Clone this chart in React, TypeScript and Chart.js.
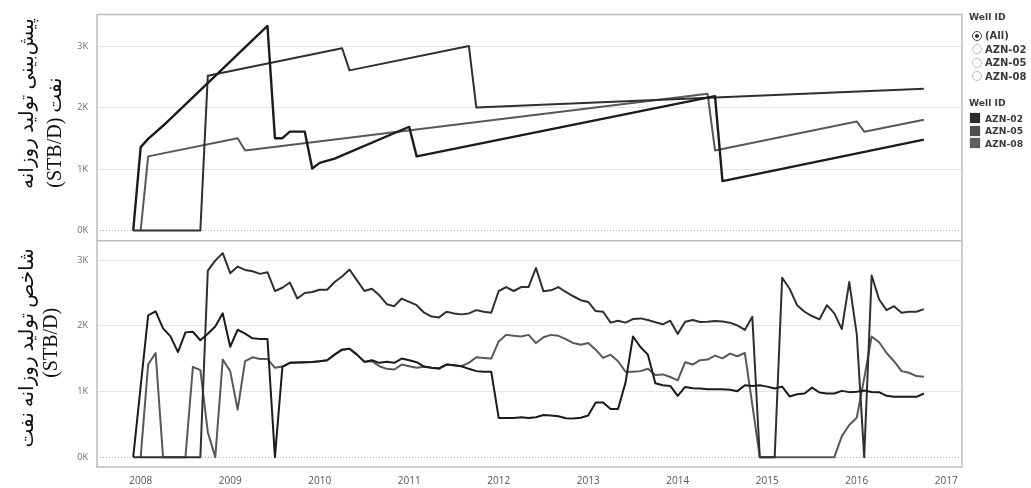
import React, { useEffect, useRef } from 'react';
import { Chart, registerables } from 'chart.js';

Chart.register(...registerables);

// ---------- categories ----------
const MONTH_COUNT = 107; // Dec 2007 .. Oct 2016
const MONTHS: string[] = Array.from({ length: MONTH_COUNT }, (_, i) => {
  const t = 2007 * 12 + 11 + i;
  const y = Math.floor(t / 12);
  const m = (t % 12) + 1;
  return `${y}-${String(m).padStart(2, '0')}`;
});

const WELLS = ['AZN-02', 'AZN-05', 'AZN-08'];
const WELL_COLORS = ['#1b1b1b', '#2f2f2f', '#585858'];
const LEGEND_SWATCHES = ['#2b2b2b', '#4e4e4e', '#5f5f5f'];

const X_TICKS = [2008, 2009, 2010, 2011, 2012, 2013, 2014, 2015, 2016, 2017];
const Y_TICKS = [0, 1000, 2000, 3000];

// ---------- bottom panel: daily oil production index (STB/D), monthly ----------
const AZN02_INDEX: (number | null)[] = [
  0, null,
  2160, 2220, 1960, 1840, 1600, 1900, 1910, 1780, 1880, 1990, 2190, 1680, 1940, 1880, 1810, 1800, 1800, 0,
  1375, 1436, 1440, 1446, 1450, 1461, 1476, 1561, 1637, 1652, 1561, 1451, 1476, 1436, 1451, 1436, 1501, 1476, 1446,
  1380, 1360, 1350, 1410, 1400, 1385, 1345, 1310, 1300, 1300, 597, 597, 597, 607, 597, 607, 643, 633, 622, 592, 590, 600,
  633, 833, 833, 733, 733, 1135, 1837, 1677, 1561, 1125, 1094, 1084, 934, 1069, 1049, 1044, 1034, 1034, 1034, 1025, 1005,
  1094, 1084, 1094, 1074, 1044, 1074, 924, 959, 969, 1059, 984, 969, 969, 1009, 990, 997, 1015, 992, 990, 934, 919, 919, 919, 919, 969,
];

const AZN05_INDEX: (number | null)[] = [
  0, 0, 0, 0, 0, 0, 0, 0, 0, 0,
  2841, 2992, 3107, 2801, 2902, 2851, 2831, 2791, 2816, 2530,
  2580, 2660, 2415, 2500, 2515, 2550, 2550, 2666, 2751, 2856, 2691, 2530, 2565, 2465, 2329, 2299, 2415, 2364, 2314,
  2200, 2140, 2128, 2214, 2189, 2174, 2189, 2239, 2214, 2199, 2530, 2590, 2530, 2590, 2590, 2881, 2525, 2540, 2590, 2515, 2450, 2390,
  2364, 2224, 2214, 2048, 2078, 2048, 2103, 2113, 2088, 2053, 2023, 2078, 1877, 2063, 2088, 2058, 2063, 2073, 2066, 2048, 2005,
  1938, 2139, 0, 0, 0, 2731, 2565, 2314, 2214, 2149, 2098, 2314, 2189, 1950, 2666, 1875, 0, 2766, 2400, 2239, 2299, 2199, 2214, 2214, 2254,
];

const AZN08_INDEX: (number | null)[] = [
  null, 0,
  1410, 1586, 0, 0, 0, 0, 1375, 1325, 380, 0, 1486, 1310, 723, 1461, 1521, 1496, 1496, 1360,
  1380, 1436, 1440, 1446, 1450, 1461, 1476, 1561, 1637, 1652, 1561, 1451, 1461, 1385, 1345, 1335, 1410, 1385, 1360,
  1375, 1360, 1350, 1410, 1400, 1385, 1436, 1521, 1511, 1501, 1762, 1862, 1847, 1837, 1862, 1737, 1827, 1862, 1847, 1797, 1737, 1712,
  1737, 1637, 1511, 1561, 1461, 1300, 1300, 1310, 1345, 1250, 1260, 1220, 1170, 1446, 1410, 1476, 1486, 1546, 1505, 1576, 1536,
  1586, 800, 0, 0, 0, 0, 0, 0, 0, 0, 0, 0, 0, 320, 490, 600, 1200, 1837, 1750, 1586, 1461, 1310, 1285, 1235, 1225,
];

// ---------- top panel: daily oil production forecast (STB/D) ----------
const FC02_MONTHS = ['2007-12', '2008-01', '2008-02', '2008-04', '2009-06', '2009-07', '2009-08', '2009-09', '2009-11', '2009-12', '2010-01', '2010-03', '2011-01', '2011-02', '2014-06', '2014-07', '2016-10'];
const FC02_VALUES = [0, 1357, 1490, 1704, 3328, 1502, 1502, 1608, 1608, 1008, 1100, 1169, 1688, 1206, 2186, 804, 1479];

const FC05_MONTHS = ['2007-12', '2008-09', '2008-10', '2010-04', '2010-05', '2011-09', '2011-10', '2016-10'];
const FC05_VALUES = [0, 0, 2519, 2965, 2605, 3002, 2000, 2305];

const FC08_MONTHS = ['2008-01', '2008-02', '2009-02', '2009-03', '2014-05', '2014-06', '2016-01', '2016-02', '2016-10'];
const FC08_VALUES = [0, 1206, 1502, 1302, 2225, 1302, 1775, 1608, 1801];

// ---------- text ----------
const TOP_TITLE = ['پیش\u200cبینی تولید روزانه', 'نفت (STB/D)'];
const BOTTOM_TITLE = ['شاخص تولید روزانه نفت', '(STB/D)'];
const LEGEND_TITLE = 'Well ID';
const FILTER_OPTIONS = ['(All)', ...WELLS];

// ---------- axis ranges ----------
const X_MIN = 2007.512;
const X_MAX = 2017.176;
const TOP_MIN = -166;
const TOP_MAX = 3516;
const BOT_MIN = -150;
const BOT_MAX = 3296;

const toYear = (s: string) => {
  const [y, m] = s.split('-').map(Number);
  return y + (m - 1) / 12;
};
const series = (months: string[], values: (number | null)[]) =>
  months.map((mo, i) => ({ x: toYear(mo), y: values[i] }));

const TICK_FONT = { family: '"Open Sans", "DejaVu Sans", sans-serif', size: 9 };
const TITLE_FONT = '20px "Liberation Serif", "DejaVu Sans", serif';

const panelPlugin = {
  id: 'panelFrame',
  afterDraw(chart: any) {
    const { ctx, chartArea } = chart;
    const yT = chart.scales.yT;
    const yB = chart.scales.yB;
    ctx.save();
    ctx.strokeStyle = '#bdbdbd';
    ctx.lineWidth = 1.5;
    ctx.beginPath();
    ctx.rect(chartArea.left, yT.top, chartArea.right - chartArea.left, yB.bottom - yT.top);
    ctx.moveTo(chartArea.left, yT.bottom);
    ctx.lineTo(chartArea.right, yT.bottom);
    ctx.stroke();

    ctx.fillStyle = '#111';
    ctx.font = TITLE_FONT;
    ctx.textAlign = 'center';
    ctx.textBaseline = 'middle';
    (ctx as any).direction = 'rtl';
    const drawLine = (text: string, cx: number, cy: number) => {
      ctx.save();
      ctx.translate(cx, cy);
      ctx.rotate(-Math.PI / 2);
      ctx.fillText(text, 0, 0);
      ctx.restore();
    };
    const topC = (yT.top + yT.bottom) / 2;
    const botC = (yB.top + yB.bottom) / 2;
    drawLine(TOP_TITLE[0], 28, topC - 24);
    drawLine(TOP_TITLE[1], 56, topC + 5);
    drawLine(BOTTOM_TITLE[0], 28, botC - 6);
    drawLine(BOTTOM_TITLE[1], 52, botC - 11);
    ctx.restore();
  },
};

const yAxis = (min: number, max: number) => ({
  type: 'linear' as const,
  position: 'left' as const,
  stack: 'panels',
  stackWeight: 1,
  min,
  max,
  afterFit: (s: any) => {
    s.width = 97;
  },
  afterBuildTicks: (s: any) => {
    s.ticks = Y_TICKS.map((v) => ({ value: v }));
  },
  grid: {
    drawTicks: false,
    color: (c: any) => (c.tick && c.tick.value === 0 ? '#b0b0b0' : '#e4e4e4'),
    lineWidth: 1,
  },
  border: {
    display: false,
    dash: (c: any) => (c.tick && c.tick.value === 0 ? [1, 2] : []),
  },
  ticks: {
    color: '#6a6a6a',
    font: TICK_FONT,
    padding: 9,
    callback: (v: any) => `${Number(v) / 1000}K`,
  },
});

function Legend() {
  const text = '#3a3a3a';
  const font = '"DejaVu Sans", sans-serif';
  return (
    <div style={{ position: 'absolute', left: 968, top: 0, width: 63, color: text, fontFamily: font }}>
      <div style={{ position: 'absolute', left: 1, top: 11, fontSize: 9.2, fontWeight: 'bold', whiteSpace: 'nowrap' }}>
        {LEGEND_TITLE}
      </div>
      {FILTER_OPTIONS.map((opt, i) => (
        <div key={opt} style={{ position: 'absolute', left: 0, top: 29 + i * 13.5, height: 13, display: 'flex', alignItems: 'center', whiteSpace: 'nowrap' }}>
          <div
            style={{
              width: 8,
              height: 8,
              borderRadius: '50%',
              border: i === 0 ? '1px solid #444' : '1px solid #bdbdbd',
              marginLeft: 4,
              marginRight: 3,
              boxSizing: 'content-box',
              display: 'flex',
              alignItems: 'center',
              justifyContent: 'center',
            }}
          >
            {i === 0 ? <div style={{ width: 4, height: 4, borderRadius: '50%', background: '#333' }} /> : null}
          </div>
          <span style={{ fontSize: 10, fontWeight: 'bold' }}>{opt}</span>
        </div>
      ))}
      <div style={{ position: 'absolute', left: 1, top: 97, fontSize: 9.2, fontWeight: 'bold', whiteSpace: 'nowrap' }}>
        {LEGEND_TITLE}
      </div>
      {WELLS.map((w, i) => (
        <div key={w} style={{ position: 'absolute', left: 2, top: 112 + i * 12.5, height: 12, display: 'flex', alignItems: 'center', whiteSpace: 'nowrap' }}>
          <div style={{ width: 10, height: 10, background: LEGEND_SWATCHES[i], marginRight: 5, boxShadow: '0 0 1px #888' }} />
          <span style={{ fontSize: 9.2, fontWeight: 'bold' }}>{w}</span>
        </div>
      ))}
    </div>
  );
}

export default function App() {
  const ref = useRef<HTMLCanvasElement | null>(null);

  useEffect(() => {
    if (!ref.current) return;
    const bottomSeries = [AZN02_INDEX, AZN05_INDEX, AZN08_INDEX];
    const topMonths = [FC02_MONTHS, FC05_MONTHS, FC08_MONTHS];
    const topValues = [FC02_VALUES, FC05_VALUES, FC08_VALUES];
    const datasets: any[] = [];
    WELLS.forEach((w, i) => {
      datasets.push({
        label: `${w} forecast`,
        yAxisID: 'yT',
        data: series(topMonths[i], topValues[i]),
        borderColor: WELL_COLORS[i],
        borderWidth: i === 0 ? 2.4 : 2,
        pointRadius: 0,
        tension: 0,
        borderJoinStyle: 'round',
        order: i,
      });
    });
    WELLS.forEach((w, i) => {
      datasets.push({
        label: `${w} index`,
        yAxisID: 'yB',
        data: series(MONTHS, bottomSeries[i]),
        borderColor: WELL_COLORS[i],
        borderWidth: 2,
        pointRadius: 0,
        tension: 0,
        spanGaps: true,
        borderJoinStyle: 'round',
        order: i,
      });
    });

    const chart = new Chart(ref.current, {
      type: 'line',
      data: { datasets },
      options: {
        responsive: false,
        animation: false,
        layout: { padding: { top: 9, right: 69, left: 0, bottom: 0 } },
        plugins: { legend: { display: false }, tooltip: { enabled: false } },
        scales: {
          x: {
            type: 'linear',
            min: X_MIN,
            max: X_MAX,
            afterFit: (s: any) => {
              s.height = 21;
            },
            afterBuildTicks: (s: any) => {
              s.ticks = X_TICKS.map((v) => ({ value: v }));
            },
            grid: { display: false, drawTicks: false },
            border: { display: false },
            ticks: {
              color: '#555',
              font: { family: '"Open Sans", "DejaVu Sans", sans-serif', size: 10 },
              padding: 8,
              maxRotation: 0,
              autoSkip: false,
              callback: (v: any) => String(v),
            },
          },
          yB: yAxis(BOT_MIN, BOT_MAX),
          yT: yAxis(TOP_MIN, TOP_MAX),
        } as any,
      },
      plugins: [panelPlugin],
    });
    return () => chart.destroy();
  }, []);

  return (
    <div style={{ position: 'fixed', left: 0, top: 0, width: 1031, height: 488, background: '#fff', overflow: 'hidden' }}>
      <canvas ref={ref} width={1031} height={488} style={{ position: 'absolute', left: 0, top: 0 }} />
      <Legend />
    </div>
  );
}
